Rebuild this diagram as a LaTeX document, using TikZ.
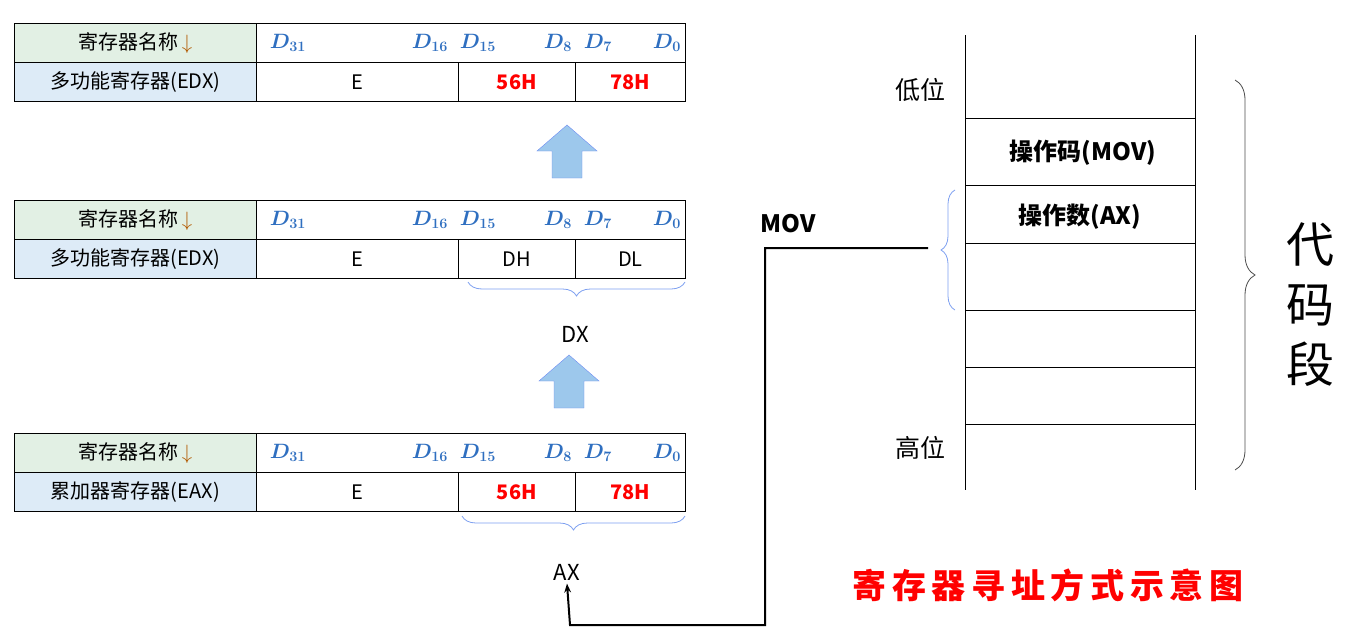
\documentclass[tikz,border=0pt]{standalone}
\usepackage{bm}
\usepackage{fontspec}
\setmainfont{Noto Sans CJK SC}
\usetikzlibrary{decorations.pathreplacing,arrows.meta}
\definecolor{hdr}{HTML}{E2F0E4}
\definecolor{nm}{HTML}{DDEBF7}
\definecolor{dblue}{HTML}{2F6FC0}
\definecolor{arr}{HTML}{9DC8EC}
\begin{document}
\begin{tikzpicture}[x=1pt,y=-1pt,
  cell/.style={draw,thick,minimum height=39pt,inner sep=0pt,font=\fontsize{20}{20}\selectfont,anchor=north west},
  lab/.style={font=\fontsize{20}{20}\selectfont},
  dl/.style={text=dblue,font=\fontsize{20}{20}\selectfont},
  red/.style={text=red,font=\fontsize{20}{20}\selectfont\bfseries},
  brc/.style={draw=arr!80!blue,thick,decorate,decoration={brace,amplitude=14pt}},
  uparr/.style={fill=arr,draw=arr!70!blue}]
\useasboundingbox (0,0) rectangle (1346,640);
% ---- tables
\foreach \t/\y/\nam/\hi/\lo/\st in {a/23/多功能寄存器(EDX)/56H/78H/red, b/200/多功能寄存器(EDX)/DH/DL/lab, c/433/累加器寄存器(EAX)/56H/78H/red}{
  \node[cell,fill=hdr,minimum width=242pt] (\t h) at (14,\y) {寄存器名称\,\textcolor{orange!70!black}{$\downarrow$}};
  \node[cell,minimum width=429pt] (\t hd) at (256,\y) {};
  \node[cell,fill=nm,minimum width=242pt] (\t n) at (14,\y+39) {\nam};
  \node[cell,minimum width=202pt] (\t e) at (256,\y+39) {E};
  \node[cell,minimum width=117pt] (\t x) at (458,\y+39) {};
  \node[cell,minimum width=110pt] (\t l) at (575,\y+39) {};
  \node[\st] at (\t x.center) {\hi};
  \node[\st] at (\t l.center) {\lo};
  \foreach \px/\s in {288/31,430/16,478/15,558/8,598/7,667/0}
    \node[dl] at (\px,\y+20) {$\bm{D_{\s}}$};
}
% ---- braces and labels
\coordinate (b1) at (685,282); \coordinate (b2) at (468,282);
\draw[brc] (b1) -- (b2);
\node[font=\fontsize{22}{22}\selectfont] (dx) at (575,334) {DX};
\coordinate (c1) at (685,516); \coordinate (c2) at (462,516);
\draw[brc] (c1) -- (c2);
\node[font=\fontsize{22}{22}\selectfont] (ax) at (567,572) {AX};
\foreach \n/\cx/\ty in {u1/567/125,u2/569/355}
  \draw[uparr] (\cx,\ty) -- (\cx+30,\ty+26) -- (\cx+15,\ty+26) -- (\cx+15,\ty+53)
     -- (\cx-15,\ty+53) -- (\cx-15,\ty+26) -- (\cx-30,\ty+26) -- cycle;
% ---- memory stack
\draw[thick] (965,35) -- (965,490) (1195,35) -- (1195,490);
\foreach \yy in {118,185,243,310,367,424} \draw[thick] (965,\yy) -- (1195,\yy);
\node[font=\fontsize{25}{25}\selectfont] (low) at (920,90) {低位};
\node[font=\fontsize{25}{25}\selectfont] (high) at (920,448) {高位};
\node[font=\fontsize{24}{24}\selectfont\bfseries] (opc) at (1083,153) {操作码(MOV)};
\node[font=\fontsize{24}{24}\selectfont\bfseries] (opd) at (1080,217) {操作数(AX)};
\draw[brc,draw=black!70,decoration={brace,amplitude=20pt}] (1235,80) -- (1235,470);
\node[font=\fontsize{48}{60}\selectfont,align=center] (seg) at (1310,305) {代\\码\\段};
\draw[brc] (955,310) -- (955,190);
\coordinate (k) at (928,248);
\node[font=\fontsize{24}{24}\selectfont\bfseries] (mov) at (788,224) {MOV};
\draw[line width=2pt,-{Stealth[length=9pt]}] (k) -- (765,248) -- (765,625) -- (570,625) -- (ax.south);
\node[text=red,font=\fontsize{34}{34}\selectfont\bfseries] (title) at (1048,585) {寄\,存\,器\,寻\,址\,方\,式\,示\,意\,图};
\end{tikzpicture}
\end{document}
